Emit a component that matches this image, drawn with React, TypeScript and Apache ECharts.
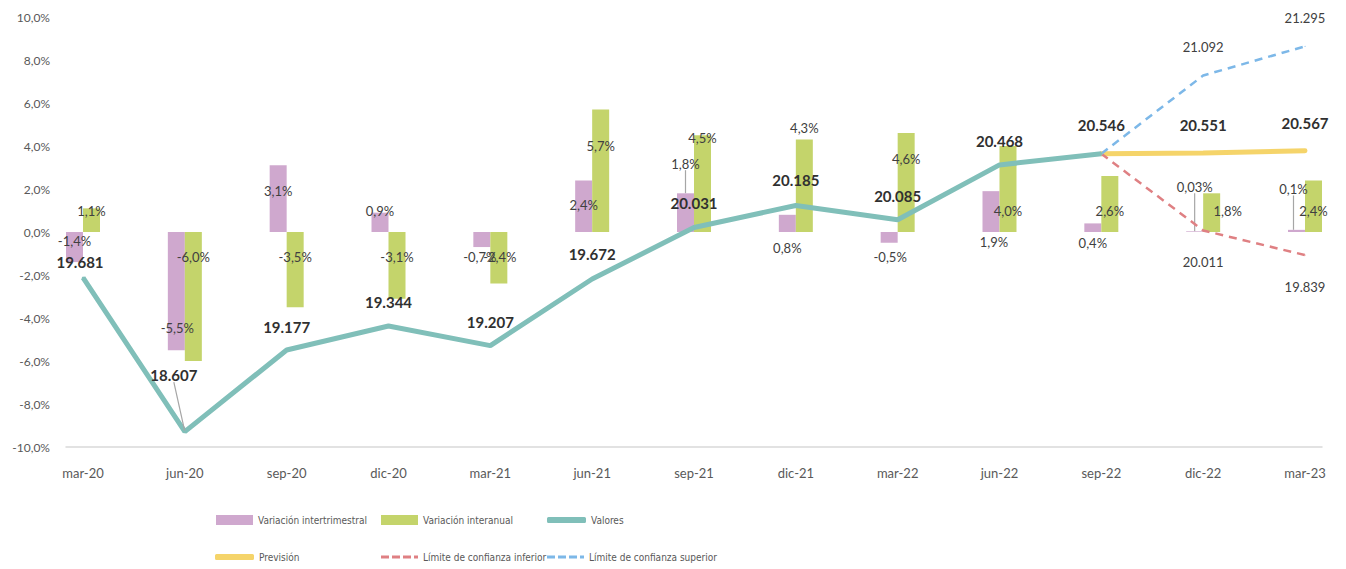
import React, { useEffect, useRef } from "react";
import * as echarts from "echarts";

// ---- data ----
const categories = ["mar-20", "jun-20", "sep-20", "dic-20", "mar-21", "jun-21", "sep-21", "dic-21", "mar-22", "jun-22", "sep-22", "dic-22", "mar-23"];
const intertrimestral = [-1.4, -5.5, 3.1, 0.9, -0.7, 2.4, 1.8, 0.8, -0.5, 1.9, 0.4, 0.03, 0.1];
const interanual = [1.1, -6.0, -3.5, -3.1, -2.4, 5.7, 4.5, 4.3, 4.6, 4.0, 2.6, 1.8, 2.4];
const valores: (number | null)[] = [19681, 18607, 19177, 19344, 19207, 19672, 20031, 20185, 20085, 20468, 20546, null, null];
const prevision: (number | null)[] = [null, null, null, null, null, null, null, null, null, null, 20546, 20551, 20567];
const limiteInferior: (number | null)[] = [null, null, null, null, null, null, null, null, null, null, 20546, 20011, 19839];
const limiteSuperior: (number | null)[] = [null, null, null, null, null, null, null, null, null, null, 20546, 21092, 21295];

// ---- label styling (offsets in px relative to default anchor) ----
const interOffsets = [[0, -6], [1, 37], [0, -8], [0, -11], [-2, 17], [0, -1], [0, -49], [0, 25], [1, 20], [3, 30], [0, 15], [0, -45], [-3, -42]];
const interanualOffsets = [[0, -9], [0, -40], [0, -13], [0, -8], [1, -1], [0, -25], [0, -46], [0, -58], [0, -24], [0, 22], [0, 7], [16, -2], [0, 5]];
const valoresOffsets = [[-3, -16], [-11, -57], [0, -23], [0, -24], [0, -24], [0, -25], [0, -25], [0, -25], [0, -24], [0, -24], [0, -29]];
const interLeader = [6, 11, 12];
const valoresLeader = [1];

const FONT = "Lato, 'Open Sans', sans-serif";
const LEGEND_FONT = "'Liberation Sans Narrow', 'DejaVu Sans Condensed', 'Roboto', sans-serif";
const DASH_ICON = "path://M0,0h8v3h-8z M11,0h8v3h-8z M22,0h8v3h-8z M33,0h4v3h-4z";

const pct = (v: number) => {
  const d = Math.abs(v) < 0.1 && v !== 0 ? 2 : 1;
  return v.toFixed(d).replace(".", ",") + "%";
};
const thousands = (v: number) => {
  const s = Math.round(v).toString();
  return s.replace(/\B(?=(\d{3})+(?!\d))/g, ".");
};

const legendItem = (name: string, left: number, top: number, icon: string, w: number, h: number) => ({
  orient: "horizontal",
  left,
  top,
  padding: 0,
  itemWidth: w,
  itemHeight: h,
  icon,
  textStyle: { fontFamily: LEGEND_FONT, fontSize: 10, color: "#595959", lineHeight: 16 },
  data: [name],
});

export default function App() {
  const ref = useRef<HTMLDivElement>(null);
  useEffect(() => {
    if (!ref.current) return;
    const chart = echarts.init(ref.current, undefined, { renderer: "svg" });

    const barData = (arr: number[], leaders: number[]) =>
      arr.map((v, i) => ({
        value: [i, v],
        labelLine: { show: leaders.includes(i) },
      }));
    const lineData = (arr: (number | null)[]) => arr.map((v, i) => [i, v]);

    const offsetLayout = (offs: number[][]) => (p: any) => {
      const o = offs[p.dataIndex];
      if (!o) return {};
      return { dx: o[0], dy: o[1] };
    };

    const option: any = {
      animation: false,
      backgroundColor: "#ffffff",
      textStyle: { fontFamily: FONT },
      grid: { left: 66, right: 24, top: 17, bottom: 122, outerBoundsMode: "none" },
      xAxis: {
        type: "value",
        min: -0.167,
        max: 12.167,
        splitLine: { show: false },
        axisTick: { show: false },
        axisLine: { show: true, onZero: false, lineStyle: { color: "#d9d9d9", width: 1.5 } },
        axisLabel: {
          customValues: categories.map((_, i) => i),
          formatter: (v: number) => categories[Math.round(v)] ?? "",
          color: "#595959",
          fontSize: 13,
          margin: 19,
          fontFamily: FONT,
        },
      },
      yAxis: [
        {
          type: "value",
          min: -10,
          max: 10,
          interval: 2,
          splitLine: { show: false },
          axisLine: { show: false },
          axisTick: { show: false },
          axisLabel: {
            formatter: (v: number) => v.toFixed(1).replace(".", ",") + "%",
            color: "#595959",
            fontSize: 12,
            margin: 16,
            fontFamily: FONT,
          },
        },
        { type: "value", min: 18500, max: 21500, show: false, splitLine: { show: false } },
      ],
      legend: [
        legendItem("Variación intertrimestral", 216, 512, "rect", 37, 10),
        legendItem("Variación interanual", 381, 512, "rect", 37, 10),
        legendItem("Valores", 547, 512, "roundRect", 39, 6),
        legendItem("Previsión", 215, 549, "roundRect", 39, 6),
        legendItem("Límite de confianza inferior", 381, 549, DASH_ICON, 37, 3),
        legendItem("Límite de confianza superior", 547, 549, DASH_ICON, 37, 3),
      ],
      series: [
        {
          name: "Variación intertrimestral",
          type: "bar",
          barWidth: 17,
          barGap: "0%",
          itemStyle: { color: "#cfa8ce" },
          data: barData(intertrimestral, interLeader),
          label: {
            show: true,
            position: "inside",
            formatter: (p: any) => pct(p.value[1]),
            color: "#404040",
            fontSize: 13,
            fontFamily: FONT,
          },
          labelLine: { show: false, lineStyle: { color: "#a6a6a6", width: 1.2 } },
          labelLayout: offsetLayout(interOffsets),
          z: 2,
        },
        {
          name: "Variación interanual",
          type: "bar",
          barWidth: 17,
          barGap: "0%",
          itemStyle: { color: "#c4d46b" },
          data: barData(interanual, []),
          label: {
            show: true,
            position: "inside",
            formatter: (p: any) => pct(p.value[1]),
            color: "#404040",
            fontSize: 13,
            fontFamily: FONT,
          },
          labelLine: { show: false },
          labelLayout: offsetLayout(interanualOffsets),
          z: 2,
        },
        {
          name: "Valores",
          type: "line",
          yAxisIndex: 1,
          data: valores.map((v, i) => ({ value: [i, v], labelLine: { show: valoresLeader.includes(i) } })),
          symbol: "circle",
          symbolSize: 2,
          showSymbol: true,
          itemStyle: { color: "#80bfb9" },
          lineStyle: { color: "#80bfb9", width: 5 },
          label: {
            show: true,
            position: "inside",
            formatter: (p: any) => thousands(p.value[1]),
            color: "#303030",
            fontSize: 15,
            fontWeight: "bold",
            fontFamily: FONT,
          },
          labelLine: { show: false, lineStyle: { color: "#a6a6a6", width: 1.2 } },
          labelLayout: offsetLayout(valoresOffsets),
          z: 4,
        },
        {
          name: "Previsión",
          type: "line",
          yAxisIndex: 1,
          data: lineData(prevision),
          symbol: "circle",
          symbolSize: 2,
          itemStyle: { color: "#f5d46a" },
          lineStyle: { color: "#f5d46a", width: 5, cap: "round" },
          label: {
            show: true,
            position: "inside",
            formatter: (p: any) => (p.dataIndex > 10 ? thousands(p.value[1]) : ""),
            color: "#303030",
            fontSize: 15,
            fontWeight: "bold",
            fontFamily: FONT,
            offset: [0, -28],
          },
          z: 3,
        },
        {
          name: "Límite de confianza inferior",
          type: "line",
          yAxisIndex: 1,
          data: lineData(limiteInferior),
          symbol: "circle",
          symbolSize: 1,
          itemStyle: { color: "#df8083" },
          lineStyle: { color: "#df8083", width: 2.5, type: [8, 6] },
          label: {
            show: true,
            position: "inside",
            formatter: (p: any) => (p.dataIndex > 10 ? thousands(p.value[1]) : ""),
            color: "#404040",
            fontSize: 13,
            fontFamily: FONT,
            offset: [0, 32],
          },
          z: 3,
        },
        {
          name: "Límite de confianza superior",
          type: "line",
          yAxisIndex: 1,
          data: lineData(limiteSuperior),
          symbol: "circle",
          symbolSize: 1,
          itemStyle: { color: "#7db8e8" },
          lineStyle: { color: "#7db8e8", width: 2.5, type: [8, 6] },
          label: {
            show: true,
            position: "inside",
            formatter: (p: any) => (p.dataIndex > 10 ? thousands(p.value[1]) : ""),
            color: "#404040",
            fontSize: 13,
            fontFamily: FONT,
            offset: [0, -28],
          },
          z: 3,
        },
      ],
    };
    chart.setOption(option);
    return () => chart.dispose();
  }, []);

  return (
    <div
      ref={ref}
      style={{ position: "absolute", left: 0, top: 0, width: 1346, height: 569, background: "#fff" }}
    />
  );
}
